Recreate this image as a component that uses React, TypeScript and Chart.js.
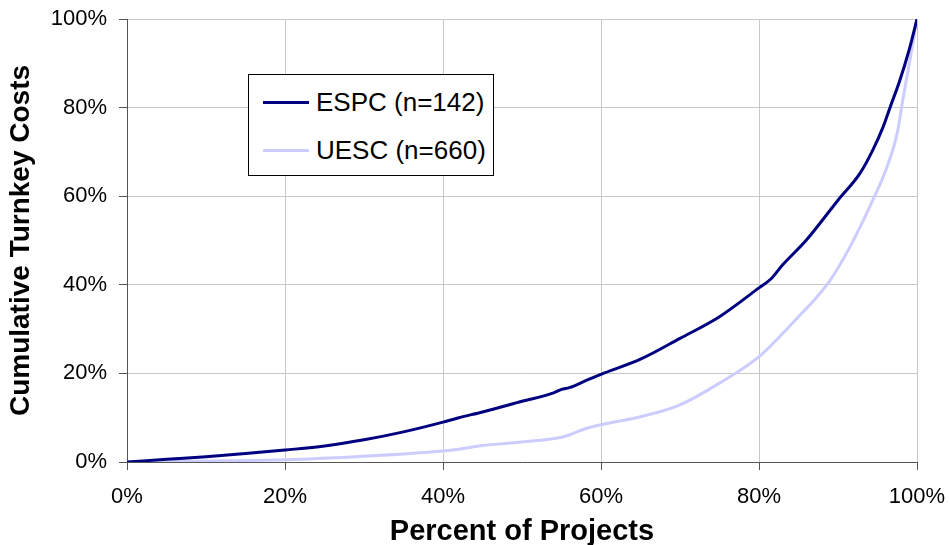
import React, { useEffect, useRef } from "react";
import { Chart, registerables } from "chart.js";

Chart.register(...registerables);

// Percent of projects (x) and cumulative turnkey costs (y), in %
const espcX = [0, 5, 10, 15, 20, 25, 30, 35, 40, 42, 45, 50, 54, 55, 56, 58, 60, 65, 70, 75, 80, 81.5, 83, 86, 90, 92.8, 94.4, 95.7, 96.6, 97.8, 99, 100];
const espcY = [0, 0.6, 1.2, 1.9, 2.7, 3.6, 5.0, 6.8, 9.0, 10.0, 11.3, 13.7, 15.6, 16.4, 16.8, 18.3, 19.8, 23.2, 27.9, 32.8, 39.3, 41.3, 44.5, 50.1, 59.1, 65.2, 70.4, 75.6, 80.1, 86, 93, 100];

const uescX = [0, 10, 20, 30, 40, 42, 45, 50, 55, 56, 58, 60, 65, 70, 75, 80, 85, 87.3, 89, 91.5, 94.4, 96.2, 97.5, 98.2, 99.1, 100];
const uescY = [0, 0.2, 0.5, 1.3, 2.5, 2.9, 3.7, 4.5, 5.6, 6.1, 7.5, 8.4, 10.2, 12.9, 17.8, 23.8, 32.8, 37.2, 41, 48.5, 59.1, 66.6, 74.3, 81.7, 90.7, 100];

const seriesLabels = ["ESPC (n=142)", "UESC (n=660)"];
const seriesColors = ["#000080", "#CCCCFF"];
const xTitle = "Percent of Projects";
const yTitle = "Cumulative Turnkey Costs";

const FONT = "'Liberation Sans', Arial, sans-serif";

export default function App() {
  const ref = useRef<HTMLCanvasElement>(null);

  useEffect(() => {
    if (!ref.current) return;
    const toPts = (xs: number[], ys: number[]) => xs.map((x, i) => ({ x, y: ys[i] }));
    const chart = new Chart(ref.current, {
      type: "line",
      data: {
        datasets: [
          {
            label: seriesLabels[0],
            data: toPts(espcX, espcY),
            borderColor: seriesColors[0],
            backgroundColor: seriesColors[0],
            borderWidth: 3,
            pointRadius: 0,
            cubicInterpolationMode: "monotone",
          },
          {
            label: seriesLabels[1],
            data: toPts(uescX, uescY),
            borderColor: seriesColors[1],
            backgroundColor: seriesColors[1],
            borderWidth: 3,
            pointRadius: 0,
            cubicInterpolationMode: "monotone",
          },
        ],
      },
      options: {
        animation: false,
        responsive: false,
        layout: { padding: { top: 19, right: 33, left: 0, bottom: 0 } },
        plugins: { legend: { display: false }, tooltip: { enabled: false } },
        scales: {
          x: {
            type: "linear",
            min: 0,
            max: 100,
            ticks: {
              stepSize: 20,
              callback: (v: any) => v + "%",
              font: { family: FONT, size: 22 },
              color: "#000",
              padding: 14,
              maxRotation: 0,
            },
            grid: { color: "#c8c8c8", tickColor: "#555", tickLength: 8, lineWidth: 1 },
            border: { color: "#555", width: 1 },
            title: {
              display: true,
              text: xTitle,
              font: { family: FONT, size: 29, weight: "bold" },
              color: "#000",
              padding: { top: 0, bottom: -4 },
            },
            afterFit: (s: any) => {
              s.height = 83;
              s.paddingLeft = 0;
              s.paddingRight = 0;
            },
          },
          y: {
            min: 0,
            max: 100,
            ticks: {
              stepSize: 20,
              callback: (v: any) => v + "%",
              font: { family: FONT, size: 22 },
              color: "#000",
              padding: 12,
            },
            grid: { color: "#c8c8c8", tickColor: "#555", tickLength: 8, lineWidth: 1 },
            border: { color: "#555", width: 1 },
            title: {
              display: true,
              text: yTitle,
              font: { family: FONT, size: 28, weight: "bold" },
              color: "#000",
              padding: { top: 4, bottom: 4 },
            },
            afterFit: (s: any) => {
              s.width = 127;
              s.paddingTop = 0;
              s.paddingBottom = 0;
            },
          },
        },
      },
    });
    return () => chart.destroy();
  }, []);

  const legendItem = (i: number, top: number) => (
    <div style={{ position: "absolute", left: 14, top, display: "flex", alignItems: "center", height: 30 }}>
      <div style={{ width: 46, height: 3, background: seriesColors[i] }} />
      <span style={{ marginLeft: 7, fontFamily: FONT, fontSize: 26, color: "#000", whiteSpace: "nowrap", lineHeight: "30px" }}>
        {seriesLabels[i]}
      </span>
    </div>
  );

  return (
    <div style={{ position: "fixed", left: 0, top: 0, width: 950, height: 545, background: "#fff" }}>
      <canvas ref={ref} width={950} height={545} style={{ display: "block" }} />
      <div
        style={{
          position: "absolute",
          left: 248,
          top: 74,
          width: 244,
          height: 100,
          border: "1px solid #000",
          background: "#fff",
        }}
      >
        {legendItem(0, 12)}
        {legendItem(1, 60)}
      </div>
    </div>
  );
}
